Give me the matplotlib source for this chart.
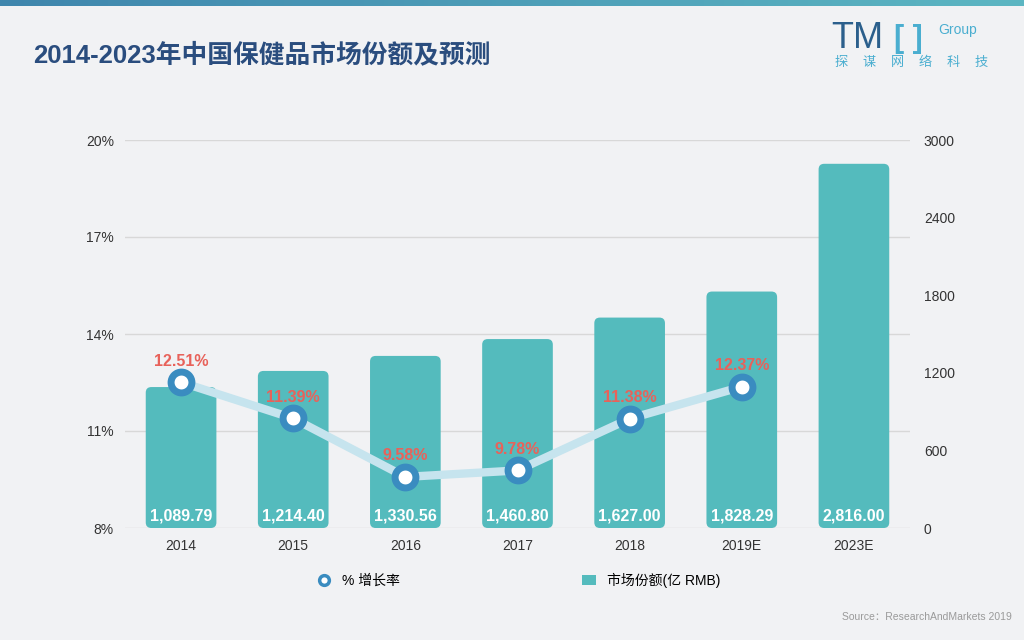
import numpy as np
import matplotlib.pyplot as plt
from matplotlib.lines import Line2D
from matplotlib.patches import Patch, FancyBboxPatch
from matplotlib.colors import LinearSegmentedColormap

plt.rcParams['font.family'] = ['Liberation Sans', 'Noto Sans CJK SC', 'DejaVu Sans']

years = ["2014", "2015", "2016", "2017", "2018", "2019E", "2023E"]
market = [1089.79, 1214.40, 1330.56, 1460.80, 1627.00, 1828.29, 2816.00]
growth = [12.51, 11.39, 9.58, 9.78, 11.38, 12.37]
left_ticks = [8, 11, 14, 17, 20]
right_ticks = [0, 600, 1200, 1800, 2400, 3000]

bar_color = "#54bbbd"
line_color = "#c6e4ee"
marker_edge = "#3a8cc0"
label_red = "#e8625a"
title_color = "#2a4d7e"

fig = plt.figure(figsize=(10.24, 6.4), dpi=100)
fig.patch.set_facecolor("#f1f2f4")

# top gradient strip
strip = fig.add_axes([0, 1 - 6 / 640, 1, 6 / 640])
grad = np.linspace(0, 1, 256).reshape(1, -1)
cmap = LinearSegmentedColormap.from_list("strip", ["#3f86ad", "#5cb6c2"])
strip.imshow(grad, aspect="auto", cmap=cmap)
strip.axis("off")

ax = fig.add_axes([125 / 1024, 1 - 528 / 640, 785 / 1024, 388 / 640])
ax2 = ax.twinx()
ax.set_zorder(ax2.get_zorder() + 1)
ax.patch.set_visible(False)
ax2.patch.set_visible(False)

x = np.arange(len(years))

# bars on the right axis, with slightly rounded corners
ax2.set_ylim(0, 3000)
ax2.set_xlim(-0.5, len(years) - 0.5)
bars = ax2.bar(x, market, width=0.63, color=bar_color, zorder=2)
for b in bars:
    bx, by = b.get_xy()
    rb = FancyBboxPatch((bx, by), b.get_width(), b.get_height(),
                        boxstyle="round,pad=0,rounding_size=0.05",
                        mutation_aspect=860, color=bar_color, lw=0, zorder=2)
    b.remove()
    ax2.add_patch(rb)
ax2.set_yticks(right_ticks)
ax2.set_yticklabels([str(t) for t in right_ticks], fontsize=10, color="#333333")
for i, v in enumerate(market):
    ax2.text(x[i], 95, f"{v:,.2f}", ha="center", va="center", color="white",
             fontsize=11.5, fontweight="bold", zorder=5)

# growth line on the left axis
xs = x[:len(growth)]
ax.plot(xs, growth, color=line_color, lw=6, zorder=3, solid_capstyle="round")
ax.plot(xs, growth, "o", ms=15, mfc="white", mec=marker_edge, mew=5, zorder=4)
for xi, g in zip(xs, growth):
    ax.text(xi, g + 0.42, f"{g:.2f}%", ha="center", va="bottom", color=label_red,
            fontsize=11.5, fontweight="bold", zorder=5)
ax.set_ylim(8, 20)
ax.set_yticks(left_ticks)
ax.set_yticklabels([f"{t}%" for t in left_ticks], fontsize=10, color="#333333")
ax.set_xlim(-0.5, len(years) - 0.5)
ax.set_xticks(x)
ax.set_xticklabels(years, fontsize=10, color="#333333")

for t in left_ticks:
    ax2.axhline((t - 8) / 12 * 3000, color="#d8d8d8", lw=1, zorder=0)

for a in (ax, ax2):
    for s in a.spines.values():
        s.set_visible(False)
    a.tick_params(length=0)
ax.tick_params(axis="x", pad=8)
ax.tick_params(axis="y", pad=8)
ax2.tick_params(axis="y", pad=10)

handles = [
    Line2D([], [], marker="o", ls="none", ms=7, mfc="white", mec=marker_edge, mew=2.5,
           label="% 增长率"),
    Patch(facecolor=bar_color, label="市场份额(亿 RMB)"),
]
fig.legend(handles=handles, loc="center", bbox_to_anchor=(519 / 1024, 1 - 580 / 640),
           ncol=2, frameon=False, fontsize=10, columnspacing=13.1, handlelength=1.0,
           handletextpad=0.8)

fig.text(33 / 1024, 1 - 55 / 640, "2014-2023年中国保健品市场份额及预测", fontsize=18.5,
         fontweight="bold", color=title_color, va="center")

# logo
fig.text(831 / 1024, 1 - 39 / 640, "TM", fontsize=26, color="#2b5f8c", va="center")
fig.text(894 / 1024, 1 - 39 / 640, "[ ]", fontsize=22, color="#4aaed0", va="center",
         fontweight="bold")
fig.text(938 / 1024, 1 - 30 / 640, "Group", fontsize=10, color="#4aaed0", va="center")
for i, ch in enumerate("探谋网络科技"):
    fig.text((841 + i * 28) / 1024, 1 - 63 / 640, ch, fontsize=9.5, color="#4aaed0",
             va="center", ha="center")

fig.text(842 / 1024, 1 - 617 / 640, "Source：ResearchAndMarkets 2019", fontsize=7.5,
         color="#9a9a9a", va="center")

fig.savefig("out.png", dpi=100, facecolor=fig.get_facecolor())
